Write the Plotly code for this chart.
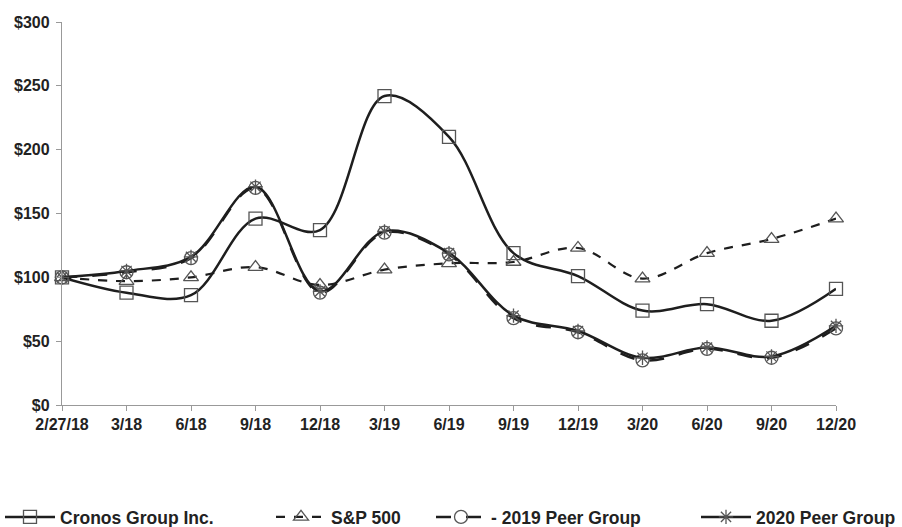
import plotly.graph_objects as go

dates = ["2/27/18", "3/18", "6/18", "9/18", "12/18", "3/19", "6/19", "9/19",
         "12/19", "3/20", "6/20", "9/20", "12/20"]
cronos = [100, 88, 86, 146, 137, 242, 210, 119, 101, 74, 79, 66, 91]
sp500 = [100, 97, 100, 108, 94, 106, 111, 112, 123, 99, 119, 130, 146]
peer2019 = [100, 104, 115, 170, 88, 135, 118, 68, 57, 35, 44, 37, 60]
peer2020 = [100, 105, 116, 171, 89, 136, 119, 70, 58, 37, 45, 38, 62]

names = ["Cronos Group Inc.", "S&P 500", "- 2019 Peer Group", "2020 Peer Group"]

LINE = "#1e1e1e"
MK = "#555555"
font_family = "Liberation Sans, Arial, sans-serif"

fig = go.Figure()
fig.add_trace(go.Scatter(
    x=dates, y=cronos, name=names[0], mode="lines+markers", showlegend=True,
    line=dict(color=LINE, width=2.5, shape="spline", smoothing=1.0),
    marker=dict(symbol="square-open", size=13, color=MK, line=dict(width=1.3)),
    cliponaxis=False, legend="legend"))
fig.add_trace(go.Scatter(
    x=dates, y=sp500, name=names[1], mode="lines+markers", showlegend=True,
    line=dict(color=LINE, width=2.2, dash="dash", shape="spline", smoothing=1.0),
    marker=dict(symbol="triangle-up-open", size=13, color=MK, line=dict(width=1.3)),
    cliponaxis=False, legend="legend2"))
fig.add_trace(go.Scatter(
    x=dates, y=peer2019, name=names[2], mode="lines+markers", showlegend=True,
    line=dict(color=LINE, width=2.5, dash="longdash", shape="spline", smoothing=1.0),
    marker=dict(symbol="circle-open", size=13, color=MK, line=dict(width=1.3)),
    cliponaxis=False, legend="legend3"))
fig.add_trace(go.Scatter(
    x=dates, y=peer2020, name=names[3], mode="lines+markers", showlegend=True,
    line=dict(color=LINE, width=2.5, shape="spline", smoothing=1.0),
    marker=dict(symbol="asterisk-open", size=12, color=MK, line=dict(width=1.3)),
    cliponaxis=False, legend="legend4"))

legfont = dict(family=font_family, size=17.5, color="#222", weight="bold")
def leg(xpx):
    return dict(x=xpx / 902, y=1 - 517 / 527, xref="container", yref="container",
                xanchor="left", yanchor="middle", visible=True,
                orientation="h", font=legfont, bgcolor="rgba(0,0,0,0)",
                itemwidth=50, tracegroupgap=0)

tickfont = dict(family=font_family, size=16, color="#222", weight="bold")
fig.update_layout(
    width=902, height=527, showlegend=True,
    margin=dict(l=62, r=66, t=22, b=122),
    paper_bgcolor="white", plot_bgcolor="white",
    font=dict(family=font_family, size=14, color="#222", weight="bold"),
    legend=leg(0), legend2=leg(271), legend3=leg(431), legend4=leg(696),
    xaxis=dict(type="category", range=[0, 12], showgrid=False, zeroline=False,
               automargin=False,
               showline=True, linecolor="#999", linewidth=1.3,
               ticks="outside", ticklen=5, tickcolor="#999", tickfont=tickfont),
    yaxis=dict(range=[0, 300], tickvals=[0, 50, 100, 150, 200, 250, 300],
               ticktext=["$0", "$50", "$100", "$150", "$200", "$250", "$300"],
               automargin=False, ticklabelstandoff=3,
               showgrid=False, zeroline=False, showline=True, linecolor="#999",
               linewidth=1.3, ticks="outside", ticklen=5, tickcolor="#999",
               tickfont=tickfont),
)

fig.write_html("out.html", config={"displayModeBar": False},
               post_script="document.body.style.margin='0px';document.body.style.overflow='hidden';")
